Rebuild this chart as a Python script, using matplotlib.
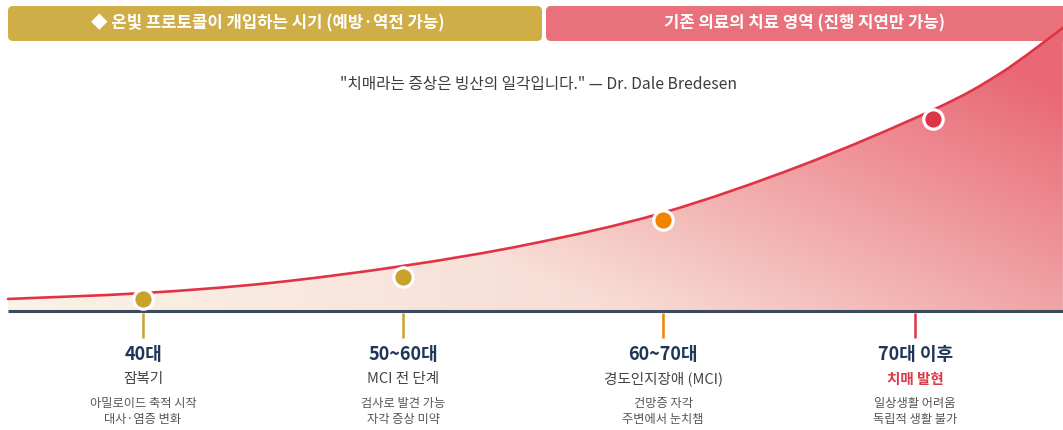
import numpy as np
import matplotlib
matplotlib.use("Agg")
import matplotlib.pyplot as plt
from matplotlib.patches import FancyBboxPatch, PathPatch
from matplotlib.path import Path
from matplotlib.transforms import blended_transform_factory

plt.rcParams['font.family'] = ['Noto Sans CJK KR', 'DejaVu Sans']

# ---------------- data ----------------
banner_left = "◆ 온빛 프로토콜이 개입하는 시기 (예방·역전 가능)"
banner_right = "기존 의료의 치료 영역 (진행 지연만 가능)"
quote = "\"치매라는 증상은 빙산의 일각입니다.\" — Dr. Dale Bredesen"

stage_ages = ["40대", "50~60대", "60~70대", "70대 이후"]
stage_names = ["잠복기", "MCI 전 단계", "경도인지장애 (MCI)", "치매 발현"]
stage_desc1 = ["아밀로이드 축적 시작", "검사로 발견 가능", "건망증 자각", "일상생활 어려움"]
stage_desc2 = ["대사·염증 변화", "자각 증상 미약", "주변에서 눈치챔", "독립적 생활 불가"]
stage_pos = [0, 1, 2, 2.97]          # timeline position of each stage label
marker_pos = [0, 1, 2, 3.04]         # timeline position of each stage marker
marker_level = [4.3, 12.3, 32.5, 68.6]   # severity at each marker

curve_t = [-0.519, 0.0, 0.488, 1.0, 1.488, 1.996, 2.527, 3.038, 3.296, 3.538]
curve_level = [4.3, 6.4, 10.0, 16.1, 23.9, 35.0, 51.8, 71.8, 84.8, 101.1]

# ---------------- styles ----------------
stage_colors = ['#C9A22C', '#C9A22C', '#F08300', '#DC3545']
navy = '#1E3658'
W, H = 1063, 430

fig = plt.figure(figsize=(W / 100, H / 100), dpi=100)

# overlay axes in pixel-like units for banners and text
ov = fig.add_axes([0, 0, 1, 1], zorder=0)
ov.set_xlim(0, W)
ov.set_ylim(H, 0)
ov.axis('off')

ax = fig.add_axes([0, 0, 1, 1], zorder=1)
ax.patch.set_visible(False)
ax.set_xlim(-143 / 260, (W - 143) / 260)
ax.set_ylim(-119 / 2.8, 311 / 2.8)
ax.axis('off')

# banners
ov.add_patch(FancyBboxPatch((8, 6), 534, 35, boxstyle="round,pad=0,rounding_size=5",
                            fc='#CFAE48', ec='none'))
ov.add_patch(FancyBboxPatch((546, 6), 530, 35, boxstyle="round,pad=0,rounding_size=5",
                            fc='#E9717B', ec='none'))
ov.text(268, 23.5, banner_left, ha='center', va='center', color='white',
        fontsize=12, fontweight='bold')
ov.text(805, 23.5, banner_right, ha='center', va='center', color='white',
        fontsize=12, fontweight='bold')
ov.text(538, 84.5, quote, ha='center', va='center', color='#3C3C3C', fontsize=11.3,
        fontweight='medium')

# smooth curve (Catmull-Rom -> cubic Bezier) through read points
pts = np.column_stack([curve_t, curve_level])
verts = [tuple(pts[0])]
codes = [Path.MOVETO]
n = len(pts)
for i in range(n - 1):
    p0 = pts[i - 1] if i > 0 else pts[i]
    p1 = pts[i]
    p2 = pts[i + 1]
    p3 = pts[i + 2] if i + 2 < n else pts[i + 1]
    c1 = p1 + (p2 - p0) / 6
    c2 = p2 - (p3 - p1) / 6
    verts += [tuple(c1), tuple(c2), tuple(p2)]
    codes += [Path.CURVE4] * 3
curve_path = Path(verts, codes)

fill_verts = verts + [(curve_t[-1], 0), (curve_t[0], 0), (curve_t[0], curve_level[0])]
fill_codes = codes + [Path.LINETO, Path.LINETO, Path.CLOSEPOLY]
fill_path = Path(fill_verts, fill_codes)

# gradient fill under curve
gx = np.linspace(curve_t[0], curve_t[-1], 500)
gy = np.linspace(0, 105, 250)
GX, GY = np.meshgrid(gx, gy)
xn = (143 + 260 * GX) / W
yn = GY / 100
w = np.clip(1.0 * xn + 0.55 * yn - 0.43, 0, 1)
w = np.maximum(w, 0.28 * xn)
cream = np.array([250, 243, 231]) / 255
red = np.array([233, 104, 116]) / 255
img = cream[None, None, :] * (1 - w[..., None]) + red[None, None, :] * w[..., None]
im = ax.imshow(img, extent=[gx[0], gx[-1], 0, 105], origin='lower', aspect='auto',
               interpolation='bilinear', zorder=1)
clip = PathPatch(fill_path, transform=ax.transData, fc='none', ec='none')
ax.add_patch(clip)
im.set_clip_path(clip)

# curve line
ax.add_patch(PathPatch(curve_path, fc='none', ec='#E03445', lw=1.9, zorder=3,
                       capstyle='round'))

# baseline
ax.hlines(0, curve_t[0], curve_t[-1], color='#3B4A5C', lw=2.2, zorder=4)

# markers
for x, y, c in zip(marker_pos, marker_level, stage_colors):
    ax.plot([x], [y], marker='o', ms=14, mfc=c, mec='white', mew=2.3, zorder=5)

# ticks and labels below the baseline
tr = blended_transform_factory(ax.transData, ov.transData)
for i in range(4):
    x = stage_pos[i]
    ax.plot([x, x], [313, 338], color=stage_colors[i], lw=1.8, transform=tr,
            solid_capstyle='butt', zorder=4)
    ax.text(x, 355, stage_ages[i], transform=tr, ha='center', va='center',
            fontsize=13, fontweight='bold', color=navy)
    sub_color = '#D93A4A' if i == 3 else '#444444'
    sub_weight = 'bold' if i == 3 else 'normal'
    ax.text(x, 379, stage_names[i], transform=tr, ha='center', va='center',
            fontsize=10.5, color=sub_color, fontweight=sub_weight)
    ax.text(x, 403.5, stage_desc1[i], transform=tr, ha='center', va='center',
            fontsize=8.8, color='#555555')
    ax.text(x, 419.5, stage_desc2[i], transform=tr, ha='center', va='center',
            fontsize=8.8, color='#555555')

fig.savefig('out.png', dpi=100)
